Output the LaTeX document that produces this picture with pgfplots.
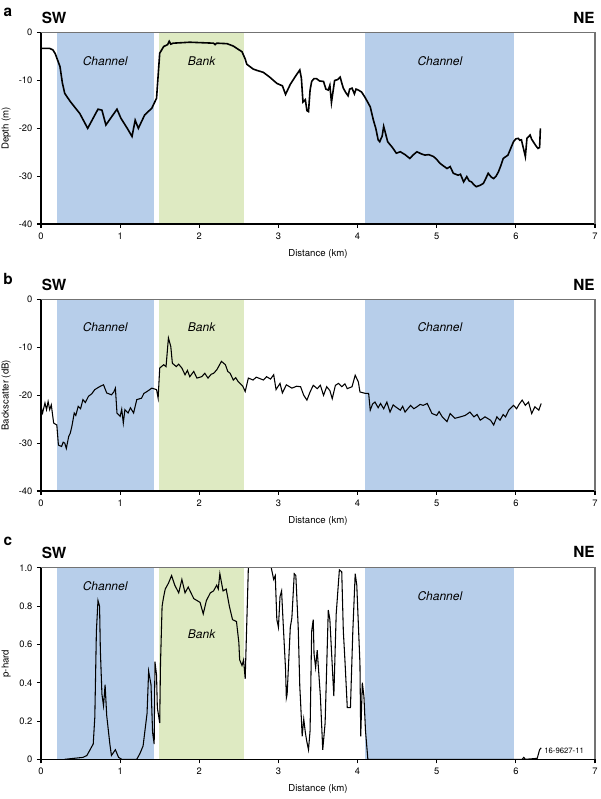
\documentclass[border=0pt]{standalone}
\usepackage{fontspec}
\setmainfont{TeX Gyre Heros}
\usepackage{pgfplots}
\pgfplotsset{compat=1.18}
\definecolor{chan}{RGB}{183,206,234}
\definecolor{bank}{RGB}{222,234,194}

\pgfplotsset{
  profile/.style={
    scale only axis, width=415.5pt, height=143.5pt,
    anchor=south west,
    xmin=0, xmax=7, xtick={0,1,...,7},
    axis x line*=bottom, axis y line*=left,
    axis line style={line width=1pt, -},
    tick align=outside, major tick length=3pt,
    tick style={black, line width=0.8pt},
    ticklabel style={font=\fontsize{7}{8}\selectfont},
    label style={font=\fontsize{7.2}{8}\selectfont},
    /pgf/number format/assume math mode=true,
    xlabel={Distance (km)},
    xlabel style={at={(axis description cs:0.5,-0.155)}, anchor=center},
    ylabel style={at={(axis description cs:-0.063,0.5)}, anchor=center},
    axis on top,
  },
  zone/.style={draw=none, fill=#1, forget plot},
}
\tikzset{
  lab/.style={font=\bfseries\fontsize{11.5}{12}\selectfont},
  reg/.style={font=\itshape\fontsize{9}{10}\selectfont},
  boxline/.style={draw=black!55, line width=0.8pt},
}

\begin{document}
\begin{tikzpicture}
\useasboundingbox (0pt,0pt) rectangle (450pt,599.25pt);

% ---- a: depth
\begin{axis}[profile, at={(30.75pt,431.25pt)}, ymin=-40, ymax=0,
  ytick={-40,-30,-20,-10,0}, yticklabels={-40,-30,-20,-10,0},
  ylabel={Depth (m)}]
\addplot[zone=chan] coordinates {(0.206,-40) (0.206,0) (1.425,0) (1.425,-40)};
\addplot[zone=bank] coordinates {(1.496,-40) (1.496,0) (2.56,0) (2.56,-40)};
\addplot[zone=chan] coordinates {(4.09,-40) (4.09,0) (5.98,0) (5.98,-40)};
\addplot[black, line width=1.2pt] coordinates {
(0,-3.3) (0.11,-3.3) (0.15,-3.6) (0.18,-4.4) (0.24,-7.1) (0.27,-10.5) (0.30,-12.7)
(0.37,-14.4) (0.49,-16.9) (0.59,-20.0) (0.72,-16.0) (0.77,-16.2) (0.82,-19.3)
(0.96,-16.0) (1.01,-17.9) (1.09,-20.0) (1.15,-21.7) (1.19,-18.3) (1.23,-20.0)
(1.31,-17.2) (1.40,-15.8) (1.46,-13.7) (1.48,-9.0) (1.50,-4.3) (1.55,-2.9)
(1.60,-2.5) (1.62,-1.8) (1.64,-2.4) (1.67,-2.2) (1.88,-2.0) (2.18,-2.2) (2.20,-2.5)
(2.22,-2.2) (2.35,-2.3) (2.43,-2.8) (2.54,-4.0) (2.58,-5.5) (2.60,-6.6) (2.68,-7.6)
(2.73,-7.9) (2.81,-8.3) (2.89,-9.3) (2.98,-10.6) (3.02,-10.9) (3.05,-11.1)
(3.09,-12.9) (3.15,-10.8) (3.22,-9.0) (3.27,-7.8) (3.29,-9.5) (3.31,-14.5)
(3.34,-14.0) (3.36,-16.3) (3.38,-16.5) (3.40,-12.0) (3.42,-10.2) (3.45,-9.6)
(3.48,-9.6) (3.52,-10.1) (3.57,-10.2) (3.60,-11.8) (3.63,-12.0) (3.65,-11.0)
(3.67,-14.6) (3.71,-10.0) (3.75,-9.8) (3.78,-9.3) (3.80,-10.5) (3.82,-11.6)
(3.85,-12.5) (3.88,-13.2) (3.90,-11.8) (3.93,-11.6) (3.96,-12.8) (3.98,-11.8)
(4.01,-12.0) (4.05,-12.4) (4.09,-13.4) (4.13,-14.6) (4.16,-15.5) (4.20,-18.3)
(4.23,-20.0) (4.26,-22.4) (4.28,-22.8) (4.30,-22.0) (4.31,-21.7) (4.33,-19.6)
(4.36,-21.5) (4.38,-22.8) (4.44,-24.0) (4.49,-25.2) (4.54,-24.9) (4.60,-25.5)
(4.66,-26.3) (4.70,-25.6) (4.75,-24.9) (4.80,-25.3) (4.85,-25.6) (4.90,-25.5)
(4.96,-25.9) (5.00,-26.5) (5.04,-27.3) (5.08,-27.8) (5.13,-28.4) (5.17,-28.0)
(5.21,-29.4) (5.27,-29.8) (5.30,-29.6) (5.34,-31.2) (5.38,-30.1) (5.41,-31.0)
(5.44,-31.2) (5.47,-31.8) (5.50,-32.2) (5.55,-31.9) (5.59,-31.5) (5.62,-30.5)
(5.65,-29.4) (5.69,-30.2) (5.72,-30.5) (5.75,-30.0) (5.78,-29.1) (5.81,-27.8)
(5.84,-26.3) (5.90,-25.6) (5.94,-24.0) (5.97,-22.8) (6.00,-22.2) (6.03,-22.1)
(6.05,-22.5) (6.07,-22.4) (6.10,-24.5) (6.12,-25.9) (6.13,-24.0) (6.14,-22.1)
(6.18,-21.4) (6.20,-22.3) (6.22,-22.8) (6.26,-23.8) (6.28,-24.2) (6.30,-24.0)
(6.31,-20.0)
};
\node[reg] at (axis cs:0.81,-5.9) {Channel};
\node[reg] at (axis cs:2.03,-5.9) {Bank};
\node[reg] at (axis cs:5.04,-5.9) {Channel};
\end{axis}

% ---- b: backscatter
\begin{axis}[profile, at={(30.75pt,231pt)}, ymin=-40, ymax=0,
  ytick={-40,-30,-20,-10,0}, yticklabels={-40,-30,-20,-10,0},
  ylabel={Backscatter (dB)}]
\addplot[zone=chan] coordinates {(0.206,-40) (0.206,0) (1.425,0) (1.425,-40)};
\addplot[zone=bank] coordinates {(1.496,-40) (1.496,0) (2.56,0) (2.56,-40)};
\addplot[zone=chan] coordinates {(4.09,-40) (4.09,0) (5.98,0) (5.98,-40)};
\addplot[black, line width=0.8pt] coordinates {
(0,-22.3) (0.02,-23.7) (0.05,-21.6) (0.07,-23.0) (0.09,-21.3) (0.11,-23.0)
(0.13,-22.0) (0.16,-25.8) (0.20,-26.2) (0.22,-30.4) (0.26,-30.7) (0.28,-29.8)
(0.30,-30.0) (0.32,-31.1) (0.35,-28.6) (0.37,-27.9) (0.39,-26.5) (0.42,-23.7)
(0.44,-24.2) (0.47,-22.3) (0.50,-22.8) (0.53,-20.9) (0.56,-21.5) (0.60,-20.2)
(0.64,-19.7) (0.68,-18.8) (0.72,-18.4) (0.75,-18.1) (0.79,-17.8) (0.83,-19.5)
(0.89,-19.9) (0.92,-19.3) (0.94,-18.5) (0.96,-23.7) (1.00,-24.4) (1.02,-22.9)
(1.04,-25.8) (1.06,-23.0) (1.10,-23.7) (1.13,-22.6) (1.17,-23.7) (1.21,-20.9)
(1.27,-20.6) (1.30,-19.6) (1.34,-19.2) (1.40,-18.5) (1.46,-18.8) (1.48,-20.6)
(1.50,-14.3) (1.55,-13.6) (1.58,-14.0) (1.61,-8.0) (1.64,-9.8) (1.66,-13.3)
(1.71,-14.0) (1.74,-13.5) (1.78,-14.3) (1.82,-15.7) (1.85,-14.8) (1.88,-16.1)
(1.93,-15.0) (1.97,-16.4) (2.03,-16.1) (2.07,-15.4) (2.11,-16.4) (2.15,-15.6)
(2.18,-15.4) (2.22,-14.7) (2.28,-12.9) (2.33,-13.6) (2.36,-15.0) (2.39,-15.4)
(2.43,-16.8) (2.46,-16.3) (2.49,-17.1) (2.55,-18.1) (2.58,-19.2) (2.62,-16.4)
(2.68,-16.8) (2.72,-16.2) (2.75,-16.4) (2.81,-16.8) (2.85,-16.1) (2.90,-16.6)
(2.94,-15.7) (2.97,-18.8) (3.02,-17.5) (3.05,-19.5) (3.10,-17.8) (3.17,-18.5)
(3.23,-18.1) (3.28,-18.2) (3.32,-20.0) (3.36,-21.0) (3.40,-19.3) (3.44,-17.9)
(3.49,-18.6) (3.53,-17.9) (3.57,-20.0) (3.61,-18.2) (3.65,-19.0) (3.68,-20.7)
(3.72,-17.9) (3.76,-17.5) (3.80,-18.2) (3.84,-17.6) (3.87,-18.6) (3.93,-18.2)
(3.97,-15.8) (4.01,-17.2) (4.03,-19.3) (4.10,-19.6) (4.14,-19.6) (4.16,-23.1)
(4.19,-21.8) (4.22,-21.4) (4.26,-22.6) (4.29,-21.7) (4.33,-22.8) (4.37,-21.4)
(4.41,-23.5) (4.45,-22.0) (4.48,-22.4) (4.54,-23.1) (4.57,-22.3) (4.60,-23.5)
(4.67,-22.1) (4.71,-22.8) (4.75,-22.4) (4.79,-21.9) (4.83,-22.1) (4.88,-21.7)
(4.94,-23.8) (5.00,-24.2) (5.03,-23.4) (5.07,-24.5) (5.13,-25.5) (5.17,-23.8)
(5.23,-24.8) (5.30,-24.5) (5.36,-24.2) (5.42,-23.5) (5.47,-24.5) (5.51,-24.0)
(5.55,-25.2) (5.61,-24.5) (5.68,-25.2) (5.72,-26.2) (5.76,-24.5) (5.80,-25.2)
(5.84,-24.0) (5.87,-24.5) (5.91,-23.1) (5.97,-22.1) (6.01,-22.8) (6.04,-21.9)
(6.08,-21.0) (6.12,-22.1) (6.16,-21.4) (6.20,-23.8) (6.24,-22.4) (6.29,-23.1)
(6.32,-21.7)
};
\node[reg] at (axis cs:0.81,-5.8) {Channel};
\node[reg] at (axis cs:2.03,-5.8) {Bank};
\node[reg] at (axis cs:5.04,-5.8) {Channel};
\end{axis}

% ---- c: p-hard
\begin{axis}[profile, at={(30.75pt,29.775pt)}, ymin=0, ymax=1,
  ytick={0,0.2,0.4,0.6,0.8,1}, yticklabels={0,0.2,0.4,0.6,0.8,1.0},
  ylabel={p-hard}]
\addplot[zone=chan] coordinates {(0.206,0) (0.206,1) (1.425,1) (1.425,0)};
\addplot[zone=bank] coordinates {(1.496,0) (1.496,1) (2.56,1) (2.56,0)};
\addplot[zone=chan] coordinates {(4.09,0) (4.09,1) (5.98,1) (5.98,0)};
\addplot[black, line width=0.8pt] coordinates {
(0.30,0) (0.53,0.01) (0.58,0.02) (0.62,0.05) (0.66,0.08) (0.68,0.22) (0.70,0.67)
(0.72,0.83) (0.74,0.80) (0.75,0.57) (0.77,0.34) (0.79,0.28) (0.81,0.39) (0.83,0.23)
(0.87,0.08) (0.89,0.02) (0.94,0.05) (0.98,0.01) (1.02,0) (1.21,0) (1.25,0.03)
(1.29,0.07) (1.34,0.24) (1.36,0.46) (1.39,0.39) (1.41,0.14) (1.43,0.08) (1.44,0.51)
(1.46,0.44) (1.47,0.27) (1.50,0.19) (1.51,0.50) (1.53,0.80) (1.55,0.85) (1.57,0.89)
(1.61,0.92) (1.65,0.96) (1.69,0.91) (1.74,0.87) (1.78,0.94) (1.82,0.87) (1.86,0.90)
(1.93,0.84) (1.97,0.83) (2.01,0.82) (2.05,0.76) (2.09,0.83) (2.14,0.87) (2.18,0.88)
(2.22,0.91) (2.24,0.89) (2.26,0.97) (2.30,0.88) (2.34,0.89) (2.38,0.80) (2.42,0.73)
(2.47,0.72) (2.50,0.61) (2.51,0.52) (2.54,0.49) (2.56,0.52) (2.58,0.42) (2.60,0.71)
(2.62,1.0) (2.64,1.15) (2.88,1.15) (2.91,1.0) (2.94,0.94) (2.96,0.96) (2.98,0.73)
(3.00,0.69) (3.02,0.85) (3.04,0.88) (3.06,0.71) (3.09,0.47) (3.10,0.32) (3.11,0.34)
(3.15,0.69) (3.17,0.74) (3.20,0.97) (3.22,0.96) (3.25,0.69) (3.27,0.38) (3.28,0.30)
(3.30,0.12) (3.32,0.21) (3.34,0.14) (3.36,0.09) (3.38,0.05) (3.40,0.15) (3.42,0.67)
(3.44,0.73) (3.45,0.55) (3.47,0.48) (3.49,0.57) (3.53,0.33) (3.56,0.05) (3.59,0.19)
(3.63,0.78) (3.65,0.73) (3.70,0.33) (3.73,0.76) (3.77,0.99) (3.80,0.98) (3.82,0.67)
(3.84,0.52) (3.87,0.27) (3.91,0.27) (3.94,0.67) (3.97,0.97) (3.99,0.91) (4.03,0.50)
(4.04,0.12) (4.06,0.40) (4.08,0.33) (4.10,0.15) (4.13,0) (6.08,0) (6.10,0.01)
(6.12,0) (6.27,0.005) (6.30,0.05) (6.32,0.06)
};
\node[reg] at (axis cs:0.81,0.904) {Channel};
\node[reg] at (axis cs:2.03,0.654) {Bank};
\node[reg] at (axis cs:5.04,0.855) {Channel};
\node[font=\fontsize{5.8}{6}\selectfont] at (axis cs:6.61,0.045) {16-9627-11};
\end{axis}

% top and right edges of the three panels
\draw[boxline] (30.75pt,574.75pt) -- (446.25pt,574.75pt) -- (446.25pt,431.25pt);
\draw[boxline] (30.75pt,374.5pt) -- (446.25pt,374.5pt) -- (446.25pt,231pt);
\draw[boxline] (30.75pt,173.275pt) -- (446.25pt,173.275pt) -- (446.25pt,29.775pt);

% panel letters and directions
\node[lab] at (6pt,590.25pt) {a};
\node[lab] at (40.5pt,585.5pt) {SW};
\node[lab] at (438pt,585.5pt) {NE};
\node[lab] at (6pt,390pt) {b};
\node[lab] at (40.5pt,385.5pt) {SW};
\node[lab] at (438pt,385.5pt) {NE};
\node[lab] at (6pt,193.5pt) {c};
\node[lab] at (40.5pt,184.5pt) {SW};
\node[lab] at (438pt,185.25pt) {NE};
\end{tikzpicture}
\end{document}
